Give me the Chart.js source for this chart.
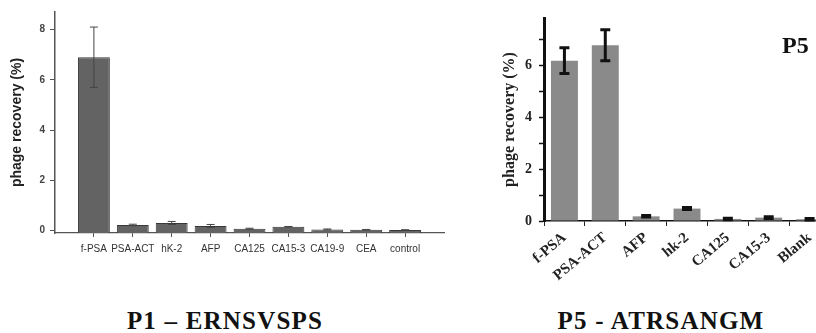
<!DOCTYPE html>
<html>
<head>
<meta charset="utf-8">
<script src="https://cdn.jsdelivr.net/npm/chart.js@4.4.0/dist/chart.umd.min.js"></script>
<style>
  html, body { margin: 0; padding: 0; background: #fff; width: 816px; height: 333px; overflow: hidden; position: relative; }
  .box { position: absolute; }
  .cap { position: absolute; font-family: "Liberation Serif", serif; font-weight: bold; font-size: 25px; line-height: 25px; color: #111; white-space: nowrap; transform: translateX(-50%); letter-spacing: 1.2px; }
  #tag { position: absolute; left: 782px; top: 33px; font-family: "Liberation Serif", serif; font-weight: bold; font-size: 24px; line-height: 24px; color: #111; }
</style>
</head>
<body>
<div class="box" style="left:0;top:0"><canvas id="p1" width="460" height="270"></canvas></div>
<div class="box" style="left:460px;top:0"><canvas id="p5" width="372" height="300"></canvas></div>
<div id="tag">P5</div>
<div class="cap" style="left:225px;top:308px">P1 – ERNSVSPS</div>
<div class="cap" style="left:661px;top:308px">P5 - ATRSANGM</div>
<script>
// P1 panel
const p1Labels = ['f-PSA', 'PSA-ACT', 'hK-2', 'AFP', 'CA125', 'CA15-3', 'CA19-9', 'CEA', 'control'];
const p1Values = [6.9, 0.22, 0.3, 0.18, 0.07, 0.15, 0.04, 0.03, 0.02];
const p1Errors = [1.2, 0.03, 0.06, 0.06, 0.02, 0.01, 0.02, 0.01, 0.01];
const p1Ticks = [0, 2, 4, 6, 8];

// P5 panel
const p5Labels = ['f-PSA', 'PSA-ACT', 'AFP', 'hk-2', 'CA125', 'CA15-3', 'Blank'];
const p5Values = [6.2, 6.8, 0.18, 0.48, 0.08, 0.13, 0.07];
const p5Errors = [0.5, 0.6, 0.03, 0.04, 0.03, 0.03, 0.03];
const p5Ticks = [0, 1, 2, 3, 4, 5, 6, 7];

// blank slot on each side of the P1 categories
function pad(arr, fill) {
  return [fill, ...arr, fill];
}

const errorBars = {
  id: 'errorBars',
  afterDatasetsDraw(chart, args, opts) {
    const ctx = chart.ctx;
    const y = chart.scales.y;
    chart.data.datasets.forEach((ds, di) => {
      const meta = chart.getDatasetMeta(di);
      meta.data.forEach((bar, i) => {
        const v = ds.data[i], e = ds.errors[i];
        if (v == null || e == null) return;
        const top = y.getPixelForValue(v + e);
        const bot = y.getPixelForValue(v - e);
        ctx.save();
        ctx.strokeStyle = opts.color;
        ctx.lineWidth = opts.width;
        ctx.beginPath();
        ctx.moveTo(bar.x, top);
        ctx.lineTo(bar.x, bot);
        ctx.moveTo(bar.x - opts.cap, top);
        ctx.lineTo(bar.x + opts.cap, top);
        ctx.moveTo(bar.x - opts.cap, bot);
        ctx.lineTo(bar.x + opts.cap, bot);
        ctx.stroke();
        ctx.restore();
      });
    });
  }
};

const sans = '"Liberation Sans", Arial, sans-serif';
const serif = '"Liberation Serif", "Times New Roman", serif';

new Chart(document.getElementById('p1'), {
  type: 'bar',
  data: {
    labels: pad(p1Labels, ''),
    datasets: [{
      data: pad(p1Values, null),
      errors: pad(p1Errors, null),
      backgroundColor: '#636363',
      borderColor: '#383838',
      borderWidth: 1,
      base: -0.1,
      categoryPercentage: 1,
      barPercentage: 0.82
    }]
  },
  options: {
    responsive: false,
    animation: false,
    layout: { padding: { left: 0, top: 12, right: 16, bottom: 0 } },
    plugins: {
      legend: { display: false },
      tooltip: { enabled: false },
      errorBars: { color: '#444', width: 1, cap: 4 }
    },
    scales: {
      x: {
        offset: false,
        afterFit(s) { s.height = 37; },
        grid: {
          offset: false,
          drawOnChartArea: false,
          tickLength: 4,
          tickColor: c => (c.index === 0 || c.index === p1Labels.length + 1) ? 'rgba(0,0,0,0)' : '#555'
        },
        border: { color: '#555', width: 1.2 },
        ticks: {
          autoSkip: false, maxRotation: 0, minRotation: 0, padding: 6,
          color: '#333', font: { family: sans, size: 10 }
        }
      },
      y: {
        min: -0.1,
        max: 8.7,
        afterFit(s) { s.width = 55; },
        afterBuildTicks(s) { s.ticks = p1Ticks.map(v => ({ value: v })); },
        grid: { drawOnChartArea: false, tickLength: 5, tickColor: '#555' },
        border: { color: '#555', width: 1.5 },
        ticks: { padding: 5, color: '#444', font: { family: sans, size: 10, weight: 'bold' } },
        title: {
          display: true,
          text: 'phage recovery (%)',
          color: '#222',
          padding: { top: 9, bottom: 0 },
          font: { family: sans, size: 14, weight: 'bold' }
        }
      }
    }
  },
  plugins: [errorBars]
});

new Chart(document.getElementById('p5'), {
  type: 'bar',
  data: {
    labels: p5Labels,
    datasets: [{
      data: p5Values,
      errors: p5Errors,
      backgroundColor: '#8a8a8a',
      borderWidth: 0,
      categoryPercentage: 1,
      barPercentage: 0.66
    }]
  },
  options: {
    responsive: false,
    animation: false,
    layout: { padding: { left: 0, top: 18, right: 2, bottom: 0 } },
    plugins: {
      legend: { display: false },
      tooltip: { enabled: false },
      errorBars: { color: '#111', width: 3, cap: 5 }
    },
    scales: {
      x: {
        afterFit(s) { s.height = 79; },
        grid: { drawOnChartArea: false, tickLength: 5, tickColor: '#222' },
        border: { color: '#111', width: 1.5 },
        ticks: {
          autoSkip: false, maxRotation: 40, minRotation: 40, padding: 3,
          color: '#222', font: { family: serif, size: 15, weight: 'bold' }
        }
      },
      y: {
        min: 0,
        max: 7.85,
        afterFit(s) { s.width = 84; },
        afterBuildTicks(s) { s.ticks = p5Ticks.map(v => ({ value: v })); },
        grid: { drawOnChartArea: false, tickLength: 5, tickColor: '#111', tickWidth: 1.5 },
        border: { color: '#111', width: 3 },
        ticks: {
          padding: 7, color: '#222',
          font: { family: serif, size: 14, weight: 'bold' },
          callback: v => (v % 2 === 0 ? v : '')
        },
        title: {
          display: true,
          text: 'phage recovery (%)',
          color: '#222',
          padding: { top: 40, bottom: 0 },
          font: { family: serif, size: 16, weight: 'bold' }
        }
      }
    }
  },
  plugins: [errorBars]
});
</script>
</body>
</html>
